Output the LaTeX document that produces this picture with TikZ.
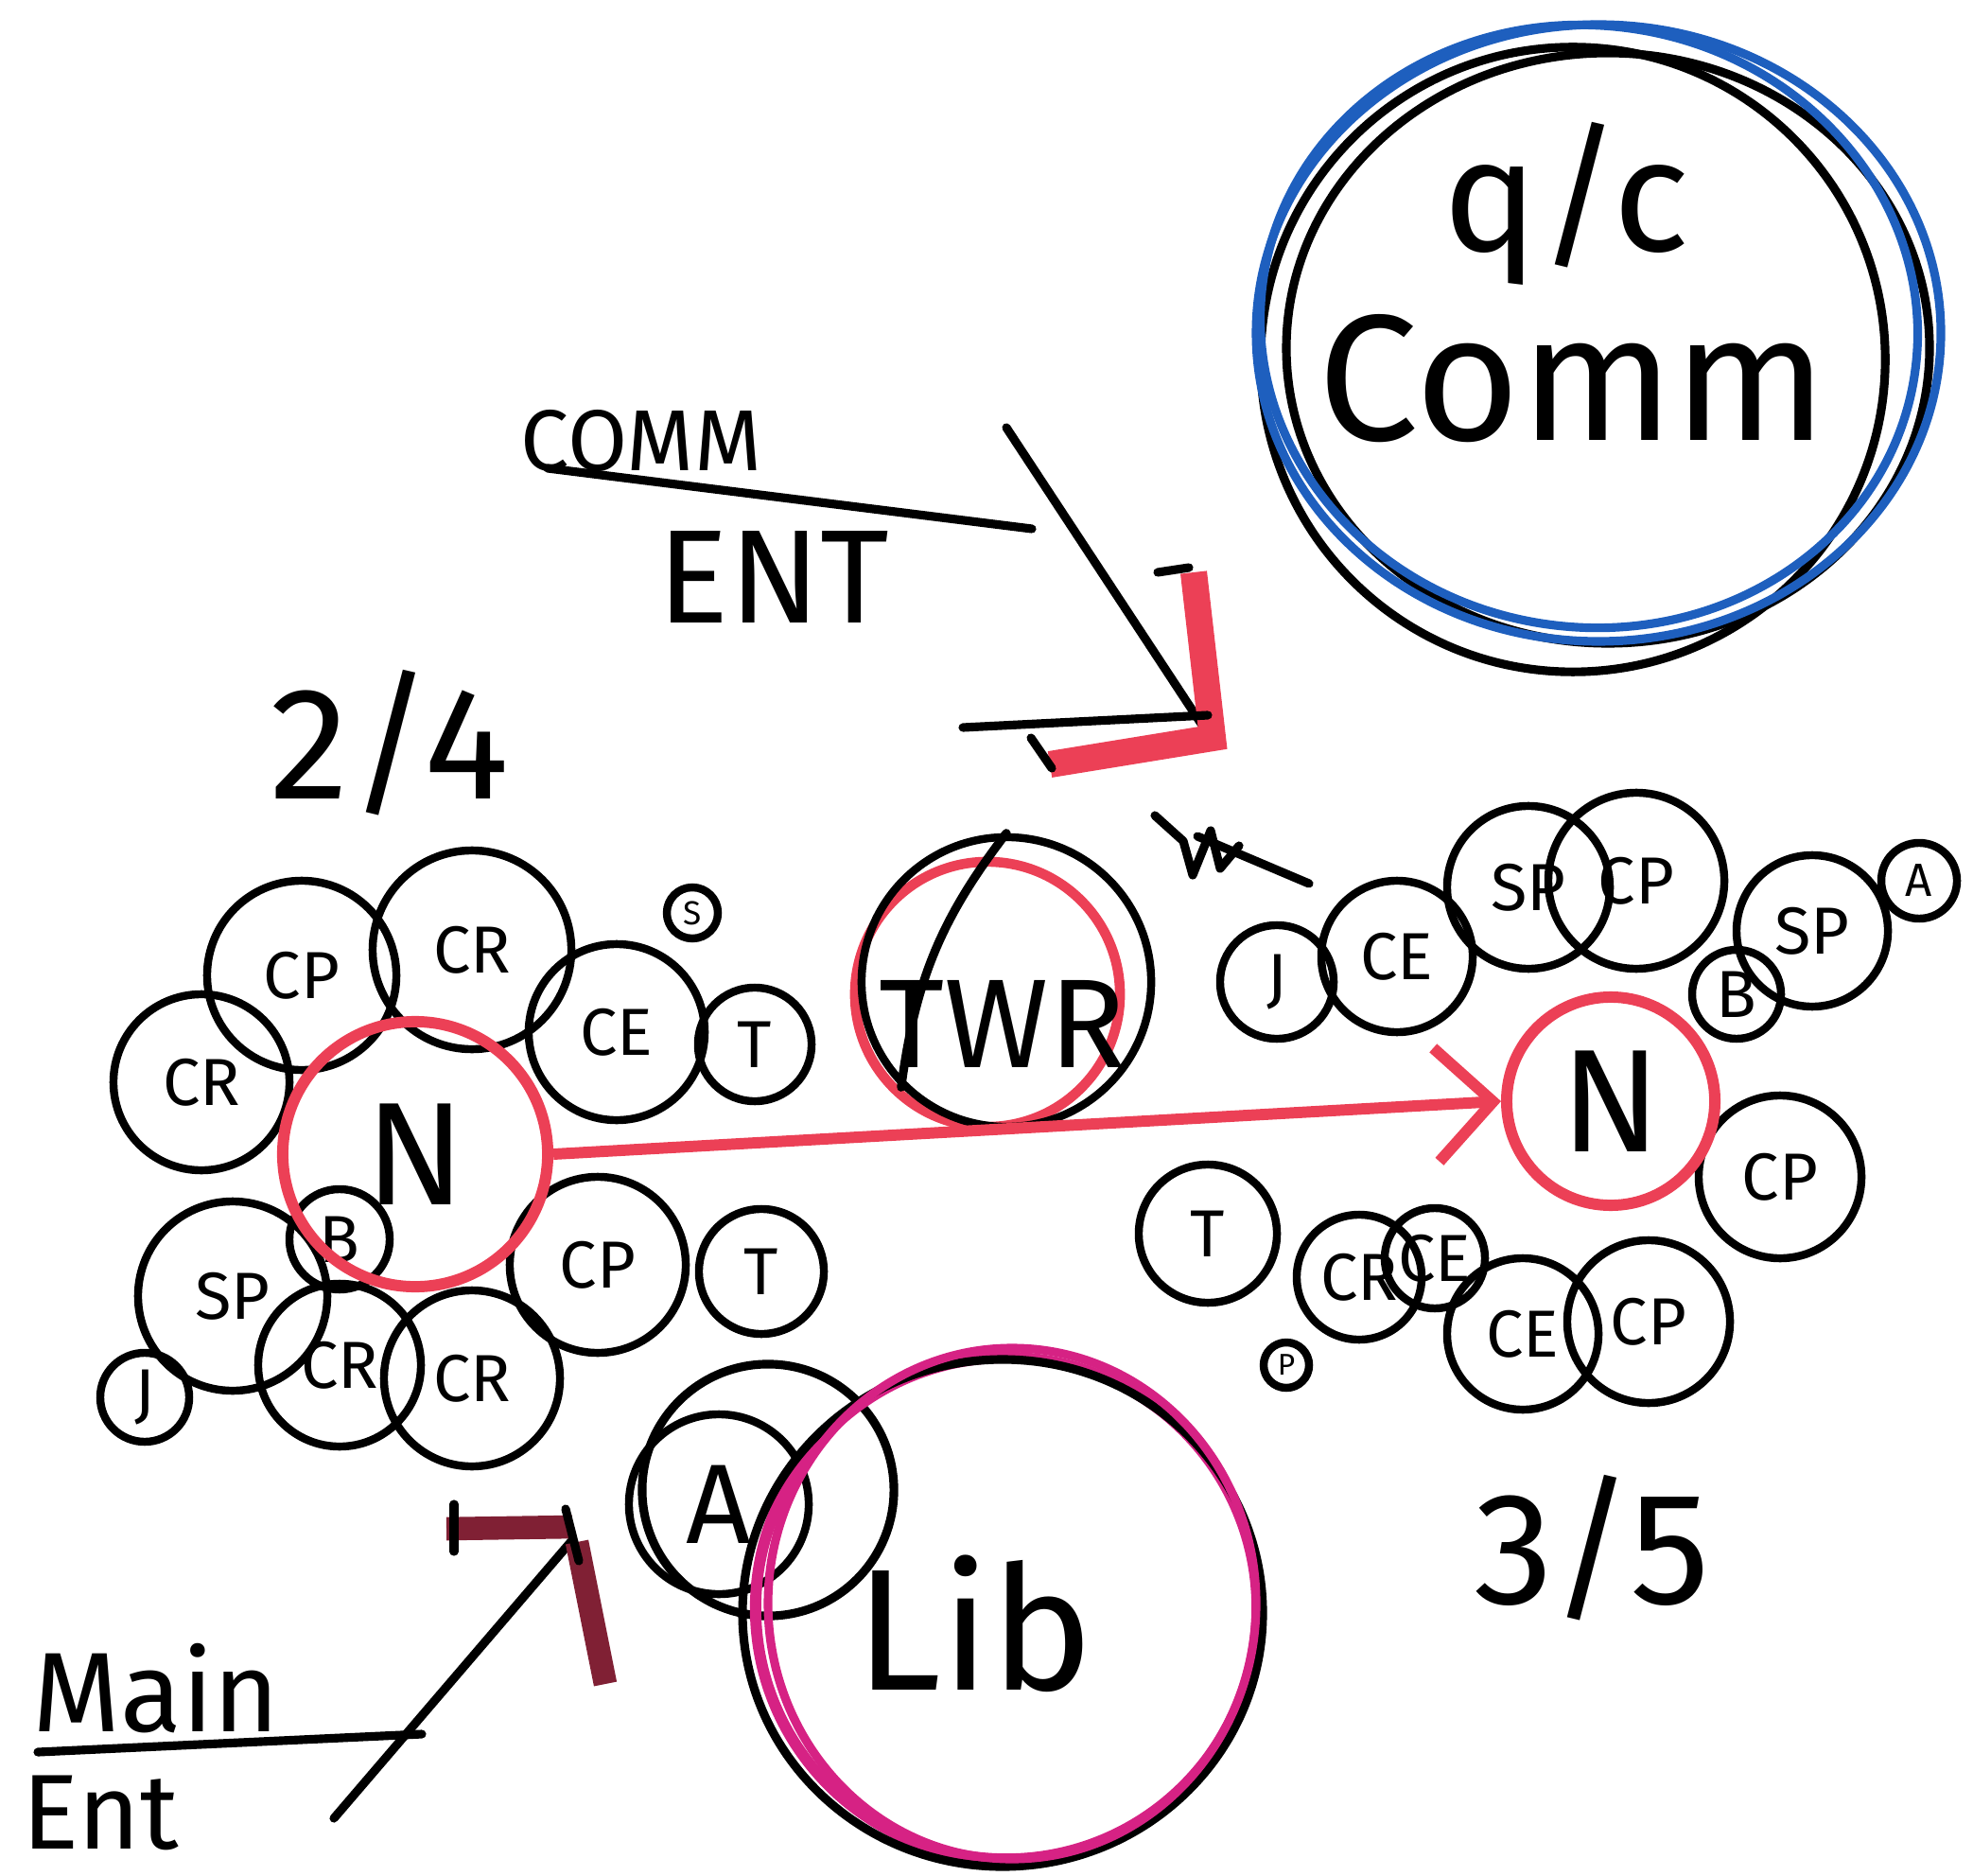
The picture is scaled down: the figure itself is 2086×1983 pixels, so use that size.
\documentclass[tikz,border=0pt]{standalone}
\usepackage{fontspec}
\setsansfont{Fira Sans}
\usepackage{tikz}
\usetikzlibrary{positioning,arrows.meta,shapes.geometric}
\definecolor{penred}{RGB}{236,64,86}
\definecolor{penblue}{RGB}{30,95,190}
\definecolor{penpink}{RGB}{214,34,132}
\definecolor{penmaroon}{RGB}{128,32,52}

\begin{document}
\begin{tikzpicture}[x=0.01cm,y=-0.01cm,
	bub/.style={circle,draw,line width=2.4pt,inner sep=0pt,font=\sffamily\fontsize{20}{22}\selectfont},
	hub/.style={circle,draw=penred,line width=3.4pt,inner sep=0pt,font=\sffamily\fontsize{44}{46}\selectfont},
	hand/.style={font=\sffamily\fontsize{40}{44}\selectfont},
	ink/.style={line width=2.6pt,line cap=round,line join=round}]
	\useasboundingbox (0,0) rectangle (2086,1983);
	% q/c comm
	\node[circle,draw,ink,minimum size=6.6cm] (qc) at (1663,380) {};
	\draw[ink] (1700,368) ellipse (340 and 312);
	\draw[penblue,ink] (1690,352) ellipse (362 and 326);
	\draw[penblue,ink,rotate around={-8:(1680,345)}] (1680,345) ellipse (348 and 318);
	\node[hand,font=\sffamily\fontsize{48}{50}\selectfont] (qctop) at (1656,215) {q/c};
	\node[hand,font=\sffamily\fontsize{54}{56}\selectfont] (qcname) at (1663,400) {Comm};
	% comm ent
	\node[hand,font=\sffamily\fontsize{26}{28}\selectfont] (comm) at (678,466) {COMM};
	\node[hand] (ent) at (818,610) {ENT};
	\coordinate (commline) at (579,495);
	\coordinate (commend) at (1091,559);
	\draw[ink] (commline) -- (commend);
	\coordinate (door1) at (1270,765);
	\draw[ink] (1064,452) -- (door1);
	\draw[penred,line width=8pt] (1262,605) -- (1282,780) -- (1110,808);
	\draw[ink] (1018,769) -- (1277,756);
	\draw[ink] (1224,605) -- (1257,600);
	\draw[ink] (1090,780) -- (1112,812);
	% zigzag
	\draw[ink] (1221,862) -- (1251,889) -- (1261,925) -- (1280,878) -- (1290,918) -- (1310,894);
	\draw[ink] (1266,884) -- (1384,934);
	% floor labels
	\node[hand,font=\sffamily\fontsize{48}{50}\selectfont] (fl24) at (412,785) {2/4};
	\node[hand,font=\sffamily\fontsize{48}{50}\selectfont] (fl35) at (1683,1636) {3/5};
	% left cluster
	\node[bub,minimum size=2.0cm] (cpA) at (319,1031) {CP};
	\node[bub,minimum size=2.1cm] (crA) at (499,1004) {CR};
	\node[bub,minimum size=1.86cm] (crB) at (213,1144) {CR};
	\node[bub,minimum size=1.86cm] (ceA) at (652,1091) {CE};
	\node[bub,minimum size=1.2cm] (tA) at (798,1104) {T};
	\node[bub,minimum size=0.54cm,font=\sffamily\fontsize{10}{10}\selectfont] (sA) at (732,965) {S};
	\node[bub,minimum size=2.0cm] (spA) at (246,1370) {SP};
	\node[bub,minimum size=1.06cm] (bA) at (359,1310) {B};
	\node[bub,minimum size=1.86cm] (cpB) at (632,1337) {CP};
	\node[bub,minimum size=1.32cm] (tB) at (805,1344) {T};
	\node[bub,minimum size=1.72cm] (crC) at (359,1443) {CR};
	\node[bub,minimum size=1.86cm] (crD) at (499,1457) {CR};
	\node[bub,minimum size=0.94cm] (jA) at (153,1477) {J};
	\node[hub,minimum size=2.8cm] (nA) at (439,1220) {N};
	% twr
	\node[circle,draw=penred,line width=3pt,minimum size=2.8cm] (twrB) at (1044,1051) {};
	\node[bub,minimum size=3.06cm] (twr) at (1064,1038) {};
	\node[hand,font=\sffamily\fontsize{38}{40}\selectfont] (twrname) at (1060,1082) {TWR};
	\draw[ink] (twr.north) to[bend right=15] (twr.south west);
	% right cluster
	\node[bub,minimum size=1.2cm] (jB) at (1350,1038) {J};
	\node[bub,minimum size=1.6cm] (ceB) at (1477,1011) {CE};
	\node[bub,minimum size=1.72cm] (spB) at (1616,938) {SP};
	\node[bub,minimum size=1.86cm] (cpC) at (1730,931) {CP};
	\node[bub,minimum size=1.6cm] (spC) at (1916,984) {SP};
	\node[bub,minimum size=0.94cm] (bB) at (1836,1051) {B};
	\node[bub,minimum size=0.8cm,font=\sffamily\fontsize{14}{14}\selectfont] (aB) at (2029,931) {A};
	\node[bub,minimum size=1.72cm] (cpD) at (1882,1244) {CP};
	\node[bub,minimum size=1.46cm] (tC) at (1277,1304) {T};
	\node[bub,minimum size=1.32cm] (crE) at (1437,1350) {CR};
	\node[bub,minimum size=1.06cm] (ceC) at (1517,1330) {CE};
	\node[bub,minimum size=1.6cm] (ceD) at (1610,1410) {CE};
	\node[bub,minimum size=1.72cm] (cpE) at (1743,1397) {CP};
	\node[bub,minimum size=0.48cm,font=\sffamily\fontsize{9}{9}\selectfont] (pB) at (1360,1443) {P};
	\node[hub,minimum size=2.2cm] (nB) at (1703,1164) {N};
	\draw[penred,line width=3.4pt,-{Straight Barb[length=6mm,width=12mm]}] (nA.east) -- (nB.west);
	% lib
	\node[circle,draw,ink,minimum size=2.66cm] (aOut) at (812,1575) {};
	\node[bub,minimum size=1.9cm,font=\sffamily\fontsize{34}{36}\selectfont] (aA) at (760,1590) {A};
	\node[circle,draw=penpink,line width=3.4pt,minimum size=5.3cm] (lib) at (1064,1700) {};
	\draw[ink] (1060,1705) ellipse (275 and 268);
	\draw[penpink,ink] (1070,1695) ellipse (258 and 270);
	\node[hand,font=\sffamily\fontsize{52}{54}\selectfont] (libname) at (1030,1716) {Lib};
	% main ent
	\node[hand,font=\sffamily\fontsize{34}{36}\selectfont] (main) at (165,1785) {Main};
	\node[hand,font=\sffamily\fontsize{32}{34}\selectfont] (ment) at (106,1916) {Ent};
	\coordinate (mainl) at (40,1852);
	\coordinate (mainr) at (446,1833);
	\draw[ink] (mainl) -- (mainr);
	\coordinate (door2) at (605,1628);
	\draw[ink] (353,1922) -- (door2);
	\draw[penmaroon,line width=7pt] (472,1616) -- (605,1614);
	\draw[penmaroon,line width=7pt] (610,1630) -- (640,1780);
	\draw[ink] (480,1590) -- (480,1640);
	\draw[ink] (598,1595) -- (612,1650);
\end{tikzpicture}
\end{document}
